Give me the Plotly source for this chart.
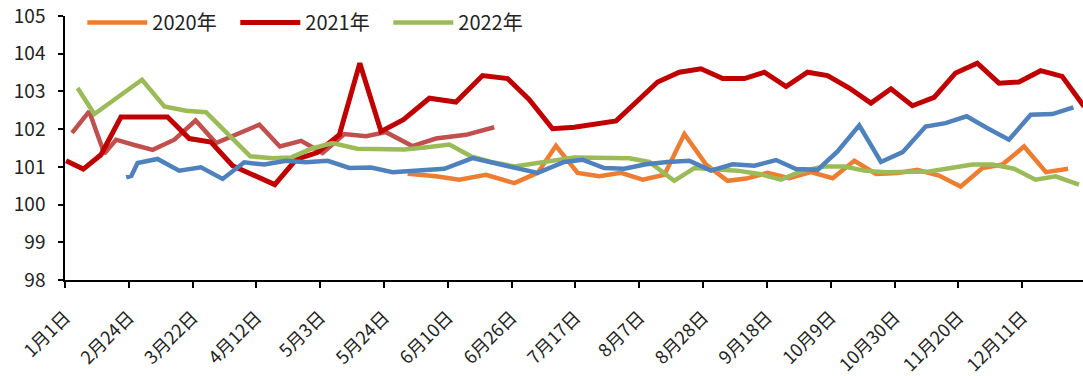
import plotly.graph_objects as go

# x positions are in weeks from 1月1日 (one tick label every 3 weeks)
tick_pos = [0, 3, 6, 9, 12, 15, 18, 21, 24, 27, 30, 33, 36, 39, 42, 45]
tick_labels = ["1月1日", "2月24日", "3月22日", "4月12日", "5月3日", "5月24日",
               "6月10日", "6月26日", "7月17日", "8月7日", "8月28日", "9月18日",
               "10月9日", "10月30日", "11月20日", "12月11日"]

# 2020年
x_2020 = [16.11, 17.44, 18.54, 19.79, 21.12, 22.22, 23.08, 24.10, 25.12, 26.14,
          27.16, 28.18, 29.12, 30.14, 31.15, 32.03, 33.03, 34.05, 35.07, 36.09,
          37.11, 38.13, 39.15, 40.07, 41.09, 42.11, 43.13, 44.07, 45.09, 46.12, 47.16]
y_2020 = [100.82, 100.75, 100.66, 100.79, 100.57, 100.84, 101.56, 100.84, 100.75, 100.84,
          100.66, 100.79, 101.87, 101.06, 100.63, 100.69, 100.84, 100.70, 100.86, 100.70,
          101.16, 100.81, 100.84, 100.92, 100.77, 100.48, 100.97, 101.06, 101.54, 100.86, 100.95]

# 2021年
x_2021 = [0.05, 0.86, 1.69, 2.63, 3.73, 4.82, 5.84, 6.86, 7.88, 8.90,
          9.86, 10.87, 11.86, 12.90, 13.86, 14.86, 15.91, 17.13, 18.38, 19.63,
          20.81, 21.83, 22.92, 23.94, 24.89, 25.91, 26.86, 27.86, 28.88, 29.90,
          30.92, 31.94, 32.88, 33.90, 34.91, 35.85, 36.87, 37.89, 38.83, 39.84,
          40.86, 41.87, 42.89, 43.91, 44.85, 45.87, 46.88, 47.91]
y_2021 = [101.16, 100.94, 101.32, 102.32, 102.32, 102.32, 101.75, 101.66, 101.03, 100.79,
          100.53, 101.20, 101.38, 101.85, 103.75, 101.94, 102.25, 102.82, 102.72, 103.42,
          103.34, 102.78, 102.01, 102.05, 102.12, 102.22, 102.72, 103.25, 103.51, 103.60,
          103.34, 103.34, 103.51, 103.13, 103.51, 103.42, 103.09, 102.69, 103.07, 102.62,
          102.84, 103.49, 103.75, 103.22, 103.25, 103.55, 103.40, 102.60]

# 2022年
x_2022 = [0.59, 1.38, 2.51, 3.62, 4.67, 5.69, 6.63, 7.63, 8.71, 9.75,
          10.64, 11.58, 12.57, 13.74, 14.82, 15.95, 17.03, 18.07, 19.09, 20.03,
          21.12, 22.14, 23.05, 23.94, 24.89, 25.68, 26.53, 27.47, 28.64, 29.59,
          30.45, 31.61, 32.64, 33.66, 34.60, 35.70, 36.64, 37.58, 38.60, 39.60,
          40.62, 41.64, 42.66, 43.60, 44.62, 45.63, 46.57, 47.67]
y_2022 = [103.09, 102.40, 102.86, 103.31, 102.60, 102.49, 102.45, 101.89, 101.28, 101.23,
          101.25, 101.48, 101.63, 101.48, 101.47, 101.46, 101.52, 101.59, 101.28, 101.13,
          101.01, 101.10, 101.18, 101.25, 101.24, 101.23, 101.23, 101.13, 100.63, 100.97,
          100.95, 100.90, 100.81, 100.66, 100.88, 101.01, 101.01, 100.90, 100.86, 100.88,
          100.88, 100.97, 101.06, 101.06, 100.95, 100.66, 100.75, 100.53]

# unlabelled series (blue)
x_blue = [2.88, 3.12, 3.41, 4.35, 5.37, 6.39, 7.41, 8.43, 9.37, 10.39,
          11.33, 12.35, 13.37, 14.39, 15.40, 16.66, 17.83, 19.16, 20.14, 21.12,
          22.22, 23.47, 24.33, 25.35, 26.29, 27.32, 28.33, 29.35, 30.37, 31.39,
          32.41, 33.43, 34.37, 35.38, 36.32, 37.34, 38.36, 39.38, 40.46, 41.40,
          42.39, 43.35, 44.38, 45.40, 46.42, 47.41]
y_blue = [100.72, 100.76, 101.10, 101.21, 100.90, 100.99, 100.68, 101.12, 101.06, 101.16,
          101.12, 101.16, 100.97, 100.98, 100.86, 100.92, 100.95, 101.23, 101.10, 100.98,
          100.84, 101.13, 101.19, 100.97, 100.95, 101.07, 101.13, 101.16, 100.90, 101.07,
          101.03, 101.18, 100.94, 100.92, 101.41, 102.10, 101.13, 101.39, 102.07, 102.16,
          102.34, 102.03, 101.72, 102.38, 102.40, 102.58]

# unlabelled series (light red)
x_lred = [0.33, 1.14, 1.85, 2.40, 3.26, 4.12, 5.14, 6.14, 7.10, 8.10,
          9.14, 10.10, 11.10, 12.11, 13.13, 14.15, 15.09, 16.33, 17.44, 18.85, 20.18]
y_lred = [101.90, 102.47, 101.35, 101.72, 101.58, 101.45, 101.72, 102.23, 101.63, 101.87,
          102.12, 101.54, 101.69, 101.37, 101.87, 101.81, 101.92, 101.55, 101.75, 101.85, 102.05]

FONT = "Noto Sans CJK SC, Noto Sans, sans-serif"

fig = go.Figure()
fig.add_trace(go.Scatter(x=x_2020, y=y_2020, mode="lines", name="2020年",
                         line=dict(color="#ED7D31", width=4.5)))
fig.add_trace(go.Scatter(x=x_lred, y=y_lred, mode="lines", showlegend=False,
                         line=dict(color="#C0504D", width=4.5)))
fig.add_trace(go.Scatter(x=x_2021, y=y_2021, mode="lines", name="2021年",
                         line=dict(color="#C00000", width=5)))
fig.add_trace(go.Scatter(x=x_2022, y=y_2022, mode="lines", name="2022年",
                         line=dict(color="#9BBB59", width=4.5)))
fig.add_trace(go.Scatter(x=x_blue, y=y_blue, mode="lines", showlegend=False,
                         line=dict(color="#4F81BD", width=4.5)))

fig.update_layout(
    width=1083, height=376,
    margin=dict(l=65, r=0, t=16, b=96),
    paper_bgcolor="white", plot_bgcolor="white",
    font=dict(family=FONT, size=16, color="#222222"),
    legend=dict(orientation="h", x=0.017, xanchor="left", y=0.975, yanchor="middle",
                font=dict(size=20, color="#222222"), bgcolor="rgba(0,0,0,0)",
                entrywidth=78, entrywidthmode="pixels", itemwidth=60,
                traceorder="normal"),
    xaxis=dict(range=[0, 47.86], tickmode="array", tickvals=tick_pos, ticktext=tick_labels,
               tickangle=-45, showgrid=False, zeroline=False, showline=True,
               linecolor="#000000", linewidth=1.5, ticks="outside", ticklen=6,
               tickcolor="#000000", tickwidth=1.5, tickfont=dict(size=18),
               ticklabelstandoff=12, automargin=False),
    yaxis=dict(range=[98, 105], dtick=1, showgrid=False, zeroline=False, showline=True,
               linecolor="#000000", linewidth=1.5, ticks="outside", ticklen=5,
               tickcolor="#000000", tickwidth=1.5, tickfont=dict(size=19),
               ticklabelstandoff=9, automargin=False),
)

fig.write_html("out.html")
